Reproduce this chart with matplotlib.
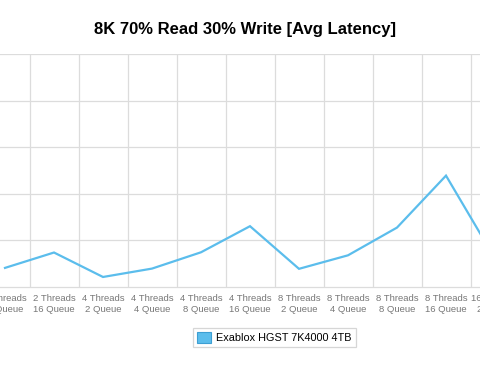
import matplotlib
matplotlib.use('Agg')
import matplotlib.pyplot as plt
from matplotlib.patches import Patch

plt.rcParams['font.family'] = ['Liberation Sans', 'DejaVu Sans']

threads = ['2 Threads', '2 Threads', '4 Threads', '4 Threads', '4 Threads',
           '4 Threads', '8 Threads', '8 Threads', '8 Threads', '8 Threads',
           '16 Threads']
queues = ['8 Queue', '16 Queue', '2 Queue', '4 Queue', '8 Queue', '16 Queue',
          '2 Queue', '4 Queue', '8 Queue', '16 Queue', '2 Queue']
latency = [4.1, 7.4, 2.15, 3.95, 7.45, 13.05, 3.9, 6.8, 12.75, 23.9, 6.1]
series_name = 'Exablox HGST 7K4000 4TB'

line_color = '#5bbdec'
grid_color = '#dcdcdc'
label_color = '#777777'

fig = plt.figure(figsize=(4.8, 3.75), dpi=100)
ax = fig.add_axes([0.0, 1 - 287 / 375, 1.0, (287 - 54) / 375])

x = list(range(len(latency)))
ax.plot(x, latency, color=line_color, lw=1.6, solid_joinstyle='miter')

labels = [t + '\n' + q for t, q in zip(threads, queues)]
# tick labels outside the view are not drawn, so place them as plain text
for i, lab in zip(x, labels):
    ax.text(i, -0.03, lab, transform=ax.get_xaxis_transform(),
            ha='center', va='top', fontsize=6.8, color=label_color,
            linespacing=1.25, clip_on=False)
ax.set_xticks([])
ax.set_yticks([])

for b in [i + 0.5 for i in range(-1, len(latency))]:
    ax.axvline(b, color=grid_color, lw=0.9, zorder=0)
for v in [10, 20, 30, 40, 50]:
    ax.axhline(v, color=grid_color, lw=0.9, zorder=0)

# category centres sit 49px apart, first one at 5px
ax.set_xlim(-5 / 49, 475 / 49)
ax.set_ylim(0, 50)
ax.set_autoscale_on(False)

for s in ['top', 'left', 'right']:
    ax.spines[s].set_visible(False)
ax.spines['bottom'].set_color(grid_color)
ax.spines['bottom'].set_linewidth(0.9)

fig.text(245 / 480, 1 - 29.5 / 375, '8K 70% Read 30% Write [Avg Latency]',
         ha='center', va='center', fontsize=12, fontweight='bold')

handle = Patch(facecolor=line_color, edgecolor='#3d9fd3', lw=0.8)
leg = fig.legend([handle], [series_name], loc='center',
                 bbox_to_anchor=(274.5 / 480, 1 - 337.5 / 375),
                 fontsize=7.85, fancybox=False, frameon=True,
                 handlelength=1.25, handleheight=1.2, handletextpad=0.45,
                 borderpad=0.4, borderaxespad=0)
leg.get_frame().set_edgecolor('#cccccc')
leg.get_frame().set_linewidth(0.9)

fig.savefig('out.png', dpi=100)
